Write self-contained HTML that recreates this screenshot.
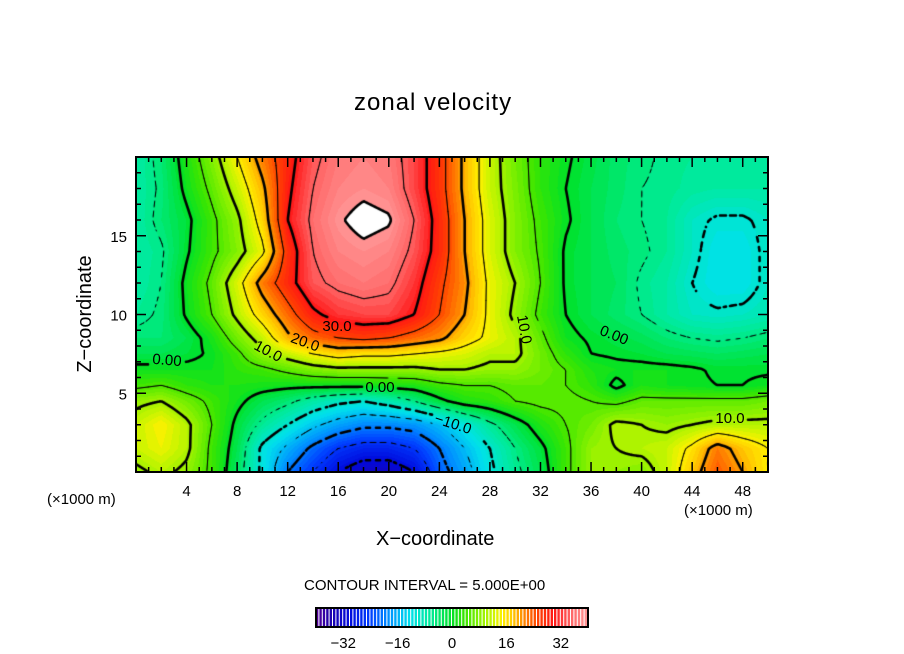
<!DOCTYPE html>
<html><head><meta charset="utf-8"><style>
body{margin:0;background:#fff;}
#wrap{position:relative;width:904px;height:654px;overflow:hidden;background:#fff;font-family:"Liberation Sans",sans-serif;color:#000;}
.t{position:absolute;white-space:nowrap;line-height:1;}
.cl{position:absolute;white-space:nowrap;line-height:1;font-size:15px;transform-origin:center center;}
</style></head><body>
<div id="wrap">
<div class="t" style="left:354px;top:91px;font-size:24px;letter-spacing:1px;">zonal velocity</div>
<div class="t" style="left:20px;top:304px;font-size:20px;transform:rotate(-90deg);transform-origin:center;width:130px;text-align:center;">Z−coordinate</div>
<div class="t" style="left:376px;top:529px;font-size:20px;">X−coordinate</div>
<div class="t" style="left:47px;top:492px;font-size:15px;">(×1000 m)</div>
<div class="t" style="left:684px;top:503px;font-size:15px;">(×1000 m)</div>
<div class="t" style="left:304px;top:578px;font-size:15px;">CONTOUR INTERVAL = 5.000E+00</div>
<canvas id="plot" width="632" height="315" style="position:absolute;left:136px;top:157px;"></canvas>
<svg id="axes" width="904" height="654" style="position:absolute;left:0;top:0;"></svg>
<div id="labels"></div>
</div>
<script>
const xCoords=[0,2,4,6,8,10,12,14,16,18,20,22,24,26,28,30,32,34,36,38,40,42,44,46,48,50];
const zLevels=[0,1.5,3,4.5,5.5,6.5,7.5,8.5,10,12,14,16,18,20];
const u_z0  =[9,11,9,4,-3,-11,-20,-25,-30,-33,-33,-30,-22,-17,-11,-6,-2,4,9,9,8,12,18,24,20,15];
const u_z1_5=[12,14,11,4,-2,-11,-16,-21,-25,-27,-27,-25,-20,-15,-10,-5,-1,4,9,10,11,12,16,22,18,15];
const u_z3  =[12,15,11,5,-1,-6,-10,-14,-17,-19,-19,-18,-15,-11,-6,-2,2,5,7,11,10,9,10,11,11,11];
const u_z4_5=[9,10,7,4,1,-2,-4,-7,-9,-10,-8,-5,-1,2,3,5,6,6,5,4,6,6,6,6,6,7];
const u_z5_5=[4,5,3,2,2,1.5,1,1,1,1,1.5,2,4,5,5,6,6,5,3,-1,2,1,0.5,0,0,1];
const u_z6_5=[1,1,1,1,3,4,6,8,9,9,9,9,10,10,9,9,7,5,2,1,1,1,0.5,-0.5,-0.5,-0.5];
const u_z7_5=[-2,-2,-1,0.5,4,9,12,15,17,16,16,15,14,13,11,11,7,3,0,-0.5,-1,-2,-2.5,-3,-2.5,-2];
const u_z8_5=[-4,-4,-2,1.5,7,12,19,23,25,26,25,23,21,17,14,11,6,1,-0.5,-1.5,-2.5,-4,-5,-5.5,-5,-4];
const u_z10 =[-6,-4.5,0.5,5,11,17,23,29,32,33,33,30,25,20,14,9,4,0,-2,-3.5,-5,-7,-9,-9.5,-9,-8];
const u_z12 =[-7,-5,1,6,13,22,28,34,36,37,36,32,26,21,14,10,5,-0.5,-2,-3,-5.5,-7,-10,-12,-12,-9];
const u_z14 =[-7,-5.5,-0.5,4,8,14,27,35,38,39,38,34,28,20,13,8,4.5,-0.5,-2,-3.5,-4.5,-6,-9,-12,-12,-9];
const u_z16 =[-7,-4,-1,4,9,17,30,36,39.5,41.5,40.5,35,28,20,13,8,4,0.5,-2,-4,-5,-6,-9,-10.5,-10.5,-9];
const u_z18 =[-7,-4.5,1,6,12,19,29,35,38,39,38,33,27,19,12,7.5,3,0,-2,-3.5,-5,-5.5,-6.5,-7,-7,-7];
const u_z20 =[-7,-4,2,8,15,22,28,34,37,38,37,33,27,19,12,7,3,0.5,-1.5,-3.5,-4.5,-5.5,-6,-6,-6,-6];
const contourLevels=[-35,-30,-25,-20,-15,-10,-5,0,5,10,15,20,25,30,35,40];
const colorbarTicks=[-32,-16,0,16,32];
const xTickLabels=[4,8,12,16,20,24,28,32,36,40,44,48];
const zTickLabels=[5,10,15];

const rows=[u_z0,u_z1_5,u_z3,u_z4_5,u_z5_5,u_z6_5,u_z7_5,u_z8_5,u_z10,u_z12,u_z14,u_z16,u_z18,u_z20];
const PL=136,PT=157,PW=632,PH=315,XMAX=50,ZMAX=20;
const sx=x=>PL+x/XMAX*PW, sz=z=>PT+PH-z/ZMAX*PH;
function field(x,z){
  let i=0;while(i<xCoords.length-2&&x>xCoords[i+1])i++;
  let fx=(x-xCoords[i])/(xCoords[i+1]-xCoords[i]);fx=Math.max(0,Math.min(1,fx));
  let j=0;while(j<zLevels.length-2&&z>zLevels[j+1])j++;
  let fz=(z-zLevels[j])/(zLevels[j+1]-zLevels[j]);fz=Math.max(0,Math.min(1,fz));
  const a=rows[j][i],b=rows[j][i+1],c=rows[j+1][i],d=rows[j+1][i+1];
  return (a*(1-fx)+b*fx)*(1-fz)+(c*(1-fx)+d*fx)*fz;
}
const stops=[[-40,[90,0,150]],[-36,[30,0,170]],[-30,[0,10,220]],[-24,[0,60,255]],[-18,[0,150,255]],[-12,[0,225,235]],[-6,[0,235,150]],[0,[0,225,40]],[4,[60,230,0]],[8,[130,240,0]],[12,[200,245,0]],[15,[255,240,0]],[18,[255,200,0]],[21,[255,140,0]],[25,[255,70,0]],[30,[255,20,20]],[35,[255,100,100]],[40,[255,150,150]]];
function cmap(v){
  if(v>=40)return [255,255,255];
  if(v<=-40)return stops[0][1];
  for(let k=0;k<stops.length-1;k++){const [v0,c0]=stops[k],[v1,c1]=stops[k+1];
    if(v>=v0&&v<=v1){const t=(v-v0)/(v1-v0);return [0,1,2].map(n=>Math.round(c0[n]+(c1[n]-c0[n])*t));}}
  return [255,255,255];
}
const cv=document.getElementById('plot'),ctx=cv.getContext('2d');
const img=ctx.createImageData(PW,PH);
for(let py=0;py<PH;py++)for(let px=0;px<PW;px++){
  const v=field((px+0.5)/PW*XMAX,ZMAX-(py+0.5)/PH*ZMAX);
  const c=v>=40?[255,255,255]:cmap(Math.floor(v)+0.5);
  const o=(py*PW+px)*4;img.data[o]=c[0];img.data[o+1]=c[1];img.data[o+2]=c[2];img.data[o+3]=255;}
ctx.putImageData(img,0,0);
const labs=[
 {t:'30.0',x:337,y:327,r:0},{t:'20.0',x:305,y:343,r:20},{t:'10.0',x:268,y:352,r:28},
 {t:'0.00',x:167,y:361,r:5},{t:'0.00',x:380,y:388,r:0},{t:'−10.0',x:451,y:424,r:18},
 {t:'10.0',x:524,y:330,r:80},{t:'0.00',x:614,y:336,r:22},{t:'10.0',x:730,y:419,r:0}];
const lroot=document.getElementById('labels');
labs.forEach(l=>{const d=document.createElement('div');d.className='cl';d.textContent=l.t;
 
 
 d.style.left=(l.x-17)+'px';d.style.top=(l.y-8)+'px';d.style.width='34px';d.style.textAlign='center';
 d.style.transform='rotate('+l.r+'deg)';lroot.appendChild(d);});
function inLabel(x,y){for(const l of labs){if(Math.abs(x+PL-l.x)<19&&Math.abs(y+PT-l.y)<10)return true;}return false;}
const CS=2,NX=Math.floor(PW/CS)+1,NY=Math.floor(PH/CS)+1,G=[];
for(let j=0;j<NY;j++){G.push([]);for(let i=0;i<NX;i++)G[j].push(field(Math.min(i*CS,PW)/PW*XMAX,ZMAX-Math.min(j*CS,PH)/PH*ZMAX));}
ctx.strokeStyle='#000';ctx.lineCap='round';
contourLevels.forEach(L=>{
  ctx.lineWidth=(L%10===0)?2.6:1;ctx.beginPath();
  for(let j=0;j<NY-1;j++)for(let i=0;i<NX-1;i++){
    const a=G[j][i],b=G[j][i+1],c=G[j+1][i+1],d=G[j+1][i];
    const pts=[];
    const e=(v0,v1,x0,y0,x1,y1)=>{if((v0<L)!==(v1<L)){const t=(L-v0)/(v1-v0);pts.push([x0+(x1-x0)*t,y0+(y1-y0)*t]);}};
    const X=i*CS,Y=j*CS;
    e(a,b,X,Y,X+CS,Y);e(b,c,X+CS,Y,X+CS,Y+CS);e(c,d,X+CS,Y+CS,X,Y+CS);e(d,a,X,Y+CS,X,Y);
    for(let k=0;k+1<pts.length;k+=2){
      const mx=(pts[k][0]+pts[k+1][0])/2,my=(pts[k][1]+pts[k+1][1])/2;
      if(inLabel(mx,my))continue;
      if(L<0&&((Math.floor(mx/5)+Math.floor(my/5))%2===1))continue;
      ctx.moveTo(pts[k][0],pts[k][1]);ctx.lineTo(pts[k+1][0],pts[k+1][1]);}
  }
  ctx.stroke();
});
const svg=document.getElementById('axes'),NS='http://www.w3.org/2000/svg';
function el(tag,attrs){const e=document.createElementNS(NS,tag);for(const k in attrs)e.setAttribute(k,attrs[k]);svg.appendChild(e);return e;}
let fr=el('rect',{x:PL,y:PT,width:PW,height:PH,fill:'none',stroke:'#000','stroke-width':2});


for(let x=1;x<XMAX;x++){const len=x%4===0?10:5,X=sx(x);
  el('line',{x1:X,y1:PT+PH,x2:X,y2:PT+PH-len,stroke:'#000','stroke-width':1.5});
  el('line',{x1:X,y1:PT,x2:X,y2:PT+len,stroke:'#000','stroke-width':1.5});}
for(let z=1;z<ZMAX;z++){const len=z%5===0?10:5,Y=sz(z);
  el('line',{x1:PL,y1:Y,x2:PL+len,y2:Y,stroke:'#000','stroke-width':1.5});
  el('line',{x1:PL+PW,y1:Y,x2:PL+PW-len,y2:Y,stroke:'#000','stroke-width':1.5});}
xTickLabels.forEach(v=>{const t=el('text',{x:sx(v),y:496,'text-anchor':'middle','font-size':15,'font-family':'Liberation Sans, sans-serif'});t.textContent=v;
 
 });
zTickLabels.forEach(v=>{const t=el('text',{x:127,y:sz(v)+6,'text-anchor':'end','font-size':15,'font-family':'Liberation Sans, sans-serif'});t.textContent=v;
 
 });
const CBL=316,CBW=272,CBT=608,CBH=19,cbx=v=>CBL+(v+40)/80*CBW;
for(let v=-40;v<40;v++){const c=cmap(v+0.5);
  const r=el('rect',{x:cbx(v),y:CBT,width:CBW/80*0.7,height:CBH,fill:'rgb('+c.join(',')+')'});
  
  }
const cbf=el('rect',{x:CBL,y:CBT,width:CBW,height:CBH,fill:'none',stroke:'#000','stroke-width':2});


colorbarTicks.forEach(v=>{const t=el('text',{x:cbx(v),y:648,'text-anchor':'middle','font-size':15,'font-family':'Liberation Sans, sans-serif'});t.textContent=(v<0?'−':'')+Math.abs(v);
 
 });
</script>
</body></html>
